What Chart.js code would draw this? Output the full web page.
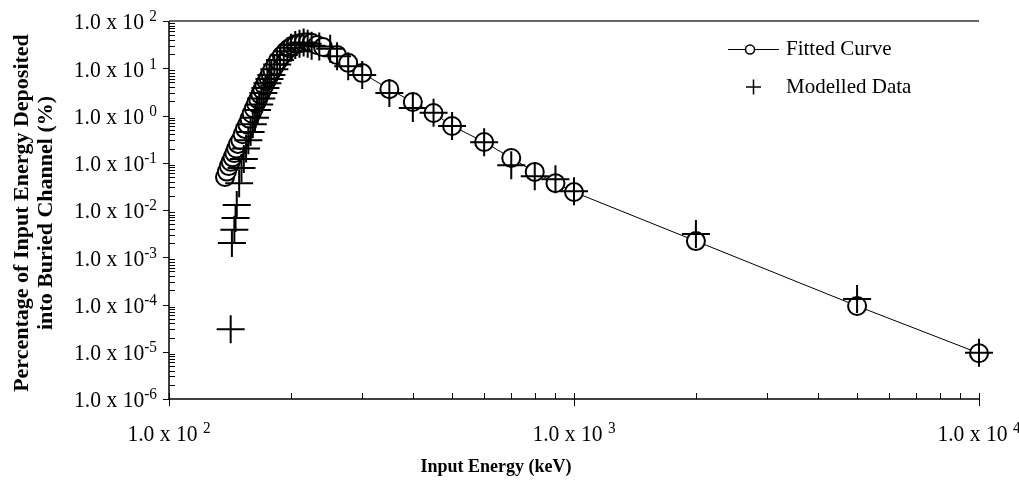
<!DOCTYPE html>
<html><head><meta charset="utf-8">
<script src="https://cdn.jsdelivr.net/npm/chart.js@4/dist/chart.umd.min.js"></script>
<style>html,body{margin:0;padding:0;background:#fff}</style>
</head><body>
<canvas id="c" width="1019" height="487"></canvas>
<script>
// ---- data ----
const fitEnergy = [137.5,139,140.5,142,143.5,145,146.5,148,150,152,154,156,158,160,162,164,166,168,170,172,174,176,178,180,183,186,190,194,198,202,206,210,215,220,225,232,240,260,277,300,350,400,450,500,600,700,800,900,1000,2000,5000,10000];
const fitValue  = [0.05,0.065,0.085,0.105,0.13,0.16,0.2,0.25,0.3,0.4,0.52,0.65,0.85,1.1,1.4,1.8,2.2,2.8,3.5,4.3,5.3,6.4,7.7,9.2,11.5,14.5,18.5,22.5,26.5,30,32.5,34,35,35.5,34.5,31,28,19,13,7.9,3.6,1.93,1.13,0.6,0.275,0.126,0.064,0.037,0.024,0.0022,0.000093,0.0000093];
const dataEnergy = [142,143,145,146,147,149,151,153,155,157,159,161,163,165,167,169,171,173,175,177,179,182,185,188,192,196,200,205,210,215,220,225,235,250,260,277,300,350,400,450,500,600,700,800,900,1000,2000,5000,10000];
const dataValue  = [0.00003,0.002,0.0038,0.0068,0.0128,0.037,0.077,0.12,0.2,0.3,0.45,0.65,0.9,1.3,1.7,2.3,3.0,3.8,4.8,5.9,7.2,9.5,12,15,19,23,27,31,33,35,33,30,29,26,18,11,7.2,3.0,1.44,1.15,0.6,0.27,0.089,0.052,0.045,0.025,0.0031,0.00013,0.0000095];
const xTickExponents = [2,3,4];
const yTickExponents = [2,1,0,-1,-2,-3,-4,-5,-6];
const minorMultipliers = [2,3,4,5,6,7,8,9];
const seriesNames = ['Fitted Curve','Modelled Data'];
const xTitle = 'Input Energy (keV)';
const yTitleLines = ['Percentage of Input Energy Deposited','into Buried Channel (%)'];

const fitPoints = fitEnergy.map((e,i)=>({x:e,y:fitValue[i]}));
const dataPoints = dataEnergy.map((e,i)=>({x:e,y:dataValue[i]}));

const FAM = '"Liberation Serif", "Times New Roman", serif';
const LBL = '24px ' + FAM;
const SUP = '17px ' + FAM;
const LEG = '21px ' + FAM;
const SQ = 0.9; // horizontal squeeze of tick label text

function sciLabel(ctx, exp, x, y, align){
  const mant = '1.0 x 10' + (exp >= 0 ? ' ' : '');
  const es = exp < 0 ? '-' + Math.abs(exp) : String(exp);
  ctx.font = LBL; const wM = ctx.measureText(mant).width;
  ctx.font = SUP; const wS = ctx.measureText(es).width;
  const tot = (wM + wS) * SQ;
  const sx = align === 'right' ? x - tot : x - tot/2;
  ctx.save();
  ctx.translate(sx, y); ctx.scale(SQ, 1);
  ctx.textAlign = 'left'; ctx.textBaseline = 'middle';
  ctx.font = LBL; ctx.fillText(mant, 0, 0);
  ctx.font = SUP; ctx.fillText(es, wM, -6);
  ctx.restore();
}

const axesPlugin = {
  id: 'axesPlugin',
  beforeDatasetsDraw(chart){
    const ctx = chart.ctx, a = chart.chartArea, xs = chart.scales.x, ys = chart.scales.y;
    ctx.save();
    ctx.strokeStyle = '#000'; ctx.lineWidth = 1.5;
    ctx.beginPath();
    ctx.moveTo(a.left, a.top); ctx.lineTo(a.left, a.bottom); ctx.lineTo(a.right, a.bottom);
    ctx.stroke();
    ctx.strokeStyle = '#333'; ctx.lineWidth = 1.5;
    ctx.beginPath(); ctx.moveTo(a.left, a.top); ctx.lineTo(a.right, a.top); ctx.stroke();
    ctx.strokeStyle = '#000'; ctx.lineWidth = 1;
    ctx.beginPath();
    xTickExponents.forEach((e, i) => {
      const px = Math.round(xs.getPixelForValue(Math.pow(10, e))) + 0.5;
      ctx.moveTo(px, a.bottom - 6); ctx.lineTo(px, a.bottom + 7);
      if (i < xTickExponents.length - 1) {
        minorMultipliers.forEach(m => {
          const mx = Math.round(xs.getPixelForValue(m * Math.pow(10, e))) + 0.5;
          ctx.moveTo(mx, a.bottom - 6); ctx.lineTo(mx, a.bottom);
        });
      }
    });
    yTickExponents.forEach((e) => {
      const py = Math.round(ys.getPixelForValue(Math.pow(10, e))) + 0.5;
      ctx.moveTo(a.left - 6, py); ctx.lineTo(a.left, py);
      if (e < yTickExponents[0]) {
        minorMultipliers.forEach(m => {
          const my = Math.round(ys.getPixelForValue(m * Math.pow(10, e))) + 0.5;
          ctx.moveTo(a.left, my); ctx.lineTo(a.left + 6, my);
        });
      }
    });
    ctx.stroke();
    ctx.restore();
  },
  afterDraw(chart){
    const ctx = chart.ctx, a = chart.chartArea, xs = chart.scales.x, ys = chart.scales.y;
    ctx.save();
    ctx.fillStyle = '#000';
    yTickExponents.forEach(e => sciLabel(ctx, e, a.left - 12, ys.getPixelForValue(Math.pow(10, e)) + 2, 'right'));
    xTickExponents.forEach(e => sciLabel(ctx, e, xs.getPixelForValue(Math.pow(10, e)), a.bottom + 36, 'center'));
    // axis titles
    ctx.font = 'bold 18px ' + FAM; ctx.textAlign = 'center'; ctx.textBaseline = 'middle';
    ctx.fillText(xTitle, 496, 467);
    ctx.save();
    ctx.font = 'bold 22px ' + FAM;
    ctx.translate(22, 213); ctx.rotate(-Math.PI / 2);
    ctx.fillText(yTitleLines[0], 0, 0);
    ctx.fillText(yTitleLines[1], 0, 24);
    ctx.restore();
    // legend
    const lx = 728, ly1 = 49, ly2 = 87;
    ctx.strokeStyle = '#000'; ctx.lineWidth = 1;
    ctx.beginPath(); ctx.moveTo(lx, ly1 + 0.5); ctx.lineTo(lx + 51, ly1 + 0.5); ctx.stroke();
    ctx.fillStyle = '#fff'; ctx.lineWidth = 1.5;
    ctx.beginPath(); ctx.arc(lx + 22, ly1 + 0.5, 4.5, 0, Math.PI * 2); ctx.fill(); ctx.stroke();
    ctx.beginPath();
    ctx.moveTo(lx + 18, ly2); ctx.lineTo(lx + 33, ly2);
    ctx.moveTo(lx + 25.5, ly2 - 7.5); ctx.lineTo(lx + 25.5, ly2 + 7.5);
    ctx.stroke();
    ctx.fillStyle = '#000'; ctx.font = LEG; ctx.textAlign = 'left';
    ctx.fillText(seriesNames[0], 786, ly1);
    ctx.fillText(seriesNames[1], 786, ly2);
    ctx.restore();
  }
};

new Chart(document.getElementById('c'), {
  type: 'line',
  data: {
    datasets: [
      { label: seriesNames[0], data: fitPoints, order: 1, borderColor: '#000', borderWidth: 1,
        pointStyle: 'circle', pointRadius: 9, pointBorderWidth: 2, pointBackgroundColor: '#fff',
        pointBorderColor: '#000', fill: false, tension: 0, clip: false },
      { label: seriesNames[1], data: dataPoints, order: 0, showLine: false,
        pointStyle: 'cross', pointRadius: 14, pointBorderWidth: 2, pointBorderColor: '#000',
        borderColor: '#000', clip: false }
    ]
  },
  options: {
    responsive: false, animation: false,
    layout: { padding: { left: 169, right: 40, top: 21, bottom: 88 } },
    plugins: { legend: { display: false }, tooltip: { enabled: false } },
    scales: {
      x: { type: 'logarithmic', min: 100, max: 10000, display: false },
      y: { type: 'logarithmic', min: 1e-6, max: 100, display: false }
    }
  },
  plugins: [axesPlugin]
});
</script>
</body></html>
